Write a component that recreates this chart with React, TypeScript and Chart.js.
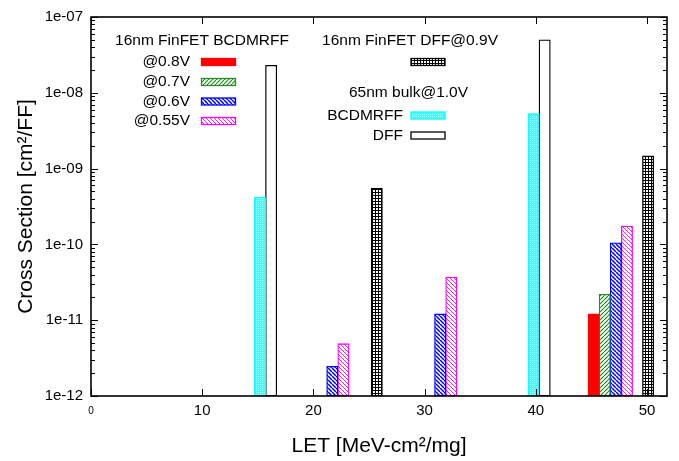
import React, { useEffect, useRef } from 'react';
import { Chart, registerables } from 'chart.js';

Chart.register(...registerables);

const FONT = "'Liberation Sans', Arial, Helvetica, sans-serif";

// ---- data (LET position, cross section) ----
const bcd08X = [45.2];
const bcd08Y = [1.21e-11];
const bcd07X = [46.2];
const bcd07Y = [2.2e-11];
const bcd06X = [21.7, 31.4, 47.2];
const bcd06Y = [2.46e-12, 1.21e-11, 1.05e-10];
const bcd055X = [22.7, 32.4, 48.2];
const bcd055Y = [4.9e-12, 3.7e-11, 1.75e-10];
const dff09X = [25.7, 50.1];
const dff09Y = [5.5e-10, 1.47e-9];
const bulkBcdX = [15.2, 39.8];
const bulkBcdY = [4.2e-10, 5.3e-9];
const bulkDffX = [16.2, 40.8];
const bulkDffY = [2.3e-8, 5.0e-8];

const xTicksStep = 10;
const xMin = 0;
const xMax = 51.8;
const yMin = 1e-12;
const yMax = 1e-7;

const seriesLabels = ['@0.8V', '@0.7V', '@0.6V', '@0.55V', '16nm FinFET DFF@0.9V', 'BCDMRFF', 'DFF'];
const groupTitles = ['16nm FinFET BCDMRFF', '16nm FinFET DFF@0.9V', '65nm bulk@1.0V'];
const xTitle = 'LET [MeV-cm\u00B2/mg]';
const yTitle = 'Cross Section [cm\u00B2/FF]';

function pts(xs: number[], ys: number[]) {
  return xs.map((x, i) => ({ x, y: ys[i] }));
}

function hatch(dir: 'slash' | 'back', color: string, lw: number): CanvasPattern {
  const s = 4;
  const c = document.createElement('canvas');
  c.width = s;
  c.height = s;
  const g = c.getContext('2d')!;
  g.fillStyle = '#fff';
  g.fillRect(0, 0, s, s);
  g.strokeStyle = color;
  g.lineWidth = lw;
  for (const off of [-s, 0, s]) {
    g.beginPath();
    if (dir === 'slash') {
      g.moveTo(off, s);
      g.lineTo(off + s, 0);
    } else {
      g.moveTo(off, 0);
      g.lineTo(off + s, s);
    }
    g.stroke();
  }
  return g.createPattern(c, 'repeat')!;
}

function gridPattern(): CanvasPattern {
  const s = 3;
  const c = document.createElement('canvas');
  c.width = s;
  c.height = s;
  const g = c.getContext('2d')!;
  g.fillStyle = '#fff';
  g.fillRect(0, 0, s, s);
  g.fillStyle = '#000';
  g.fillRect(0, 0, s, 1);
  g.fillRect(0, 0, 1, s);
  return g.createPattern(c, 'repeat')!;
}

function cyanPattern(): CanvasPattern {
  const s = 2;
  const c = document.createElement('canvas');
  c.width = s;
  c.height = s;
  const g = c.getContext('2d')!;
  g.fillStyle = '#3ffafa';
  g.fillRect(0, 0, s, s);
  g.fillStyle = '#a8ffff';
  g.fillRect(0, 0, 1, 1);
  return g.createPattern(c, 'repeat')!;
}

function isDecade(v: number) {
  const l = Math.log10(v);
  return Math.abs(l - Math.round(l)) < 1e-6;
}
function isIntMantissa(v: number) {
  const e = Math.floor(Math.log10(v) + 1e-9);
  const m = v / Math.pow(10, e);
  return Math.abs(m - Math.round(m)) < 1e-6;
}

const framePlugin = {
  id: 'gnuframe',
  afterDatasetsDraw(chart: any) {
    const { ctx, chartArea: a, scales } = chart;
    const xs = scales.x;
    const ys = scales.y;
    ctx.save();
    ctx.strokeStyle = '#000';
    ctx.lineWidth = 1;
    ctx.beginPath();
    for (const t of ys.ticks) {
      if (!isIntMantissa(t.value)) continue;
      const p = Math.round(ys.getPixelForValue(t.value)) + 0.5;
      const len = isDecade(t.value) ? 7 : 4;
      ctx.moveTo(a.left, p);
      ctx.lineTo(a.left + len, p);
      ctx.moveTo(a.right, p);
      ctx.lineTo(a.right - len, p);
    }
    for (const t of xs.ticks) {
      const p = Math.round(xs.getPixelForValue(t.value)) + 0.5;
      ctx.moveTo(p, a.bottom);
      ctx.lineTo(p, a.bottom - 7);
      ctx.moveTo(p, a.top);
      ctx.lineTo(p, a.top + 7);
    }
    ctx.stroke();
    ctx.lineWidth = 1.6;
    ctx.strokeRect(a.left, a.top, a.right - a.left, a.bottom - a.top);
    ctx.restore();
  },
  afterDraw(chart: any) {
    const { ctx } = chart;
    const ds = chart.data.datasets;
    ctx.save();
    ctx.font = `15.5px ${FONT}`;
    ctx.fillStyle = '#000';
    ctx.textBaseline = 'middle';
    const sample = (d: any, x: number, yc: number) => {
      const w = 34;
      const h = 7;
      ctx.fillStyle = d.backgroundColor;
      ctx.fillRect(x, yc - h / 2, w, h);
      ctx.strokeStyle = d.borderColor;
      ctx.lineWidth = 1.3;
      ctx.strokeRect(x, yc - h / 2, w, h);
      ctx.fillStyle = '#000';
    };
    // left group
    ctx.textAlign = 'center';
    ctx.fillText(groupTitles[0], 202, 41);
    const rows = [62, 82, 101.5, 121];
    ctx.textAlign = 'right';
    for (let i = 0; i < 4; i++) {
      ctx.fillText(ds[i].label, 190, rows[i]);
      sample(ds[i], 201.5, rows[i]);
    }
    // right group
    ctx.textAlign = 'center';
    ctx.fillText(groupTitles[1], 410, 41);
    sample(ds[4], 411, 62);
    ctx.fillText(groupTitles[2], 408.5, 93);
    ctx.textAlign = 'right';
    ctx.fillText(ds[5].label, 403, 115.5);
    sample(ds[5], 411, 115.5);
    ctx.fillText(ds[6].label, 403, 135.5);
    sample(ds[6], 411, 135.5);
    ctx.restore();
  },
};

export default function App() {
  const ref = useRef<HTMLCanvasElement>(null);
  useEffect(() => {
    document.body.style.margin = '0';
    const canvas = ref.current!;
    const common = { borderWidth: 1.3, barThickness: 11.3, grouped: false, borderSkipped: false as any };
    const chart = new Chart(canvas, {
      type: 'bar',
      data: {
        datasets: [
          { label: seriesLabels[0], data: pts(bcd08X, bcd08Y) as any, backgroundColor: '#ff0000', borderColor: '#ff0000', ...common },
          { label: seriesLabels[1], data: pts(bcd07X, bcd07Y) as any, backgroundColor: hatch('slash', '#1f8f1f', 1.2), borderColor: '#2a8a2a', ...common },
          { label: seriesLabels[2], data: pts(bcd06X, bcd06Y) as any, backgroundColor: hatch('back', '#0000ff', 1.5), borderColor: '#0000ff', ...common },
          { label: seriesLabels[3], data: pts(bcd055X, bcd055Y) as any, backgroundColor: hatch('back', '#ff00ff', 0.9), borderColor: '#ff00ff', ...common },
          { label: seriesLabels[4], data: pts(dff09X, dff09Y) as any, backgroundColor: gridPattern(), borderColor: '#000000', ...common },
          { label: seriesLabels[5], data: pts(bulkBcdX, bulkBcdY) as any, backgroundColor: cyanPattern(), borderColor: '#00ffff', ...common },
          { label: seriesLabels[6], data: pts(bulkDffX, bulkDffY) as any, backgroundColor: '#ffffff', borderColor: '#000000', ...common },
        ],
      },
      options: {
        responsive: false,
        animation: false,
        devicePixelRatio: 1,
        layout: { padding: { top: 12, right: 12, left: 0, bottom: 0 } },
        plugins: { legend: { display: false }, tooltip: { enabled: false } },
        scales: {
          x: {
            type: 'linear',
            offset: false,
            min: xMin,
            max: xMax,
            grid: { display: false, drawTicks: false, offset: false },
            border: { display: false },
            ticks: {
              stepSize: xTicksStep,
              includeBounds: false,
              padding: 6,
              color: '#000',
              maxRotation: 0,
              font: (c: any) =>
                c.tick && c.tick.value === 0
                  ? { family: FONT, size: 10, lineHeight: 1.94 }
                  : { family: FONT, size: 15, lineHeight: 1.2 },
            },
            title: {
              display: true,
              text: xTitle,
              color: '#000',
              font: { family: FONT, size: 21 },
              padding: { top: 0, bottom: 2 },
            },
            afterFit: (s: any) => {
              s.height = 65;
            },
          },
          y: {
            type: 'logarithmic',
            min: yMin,
            max: yMax,
            grid: { display: false, drawTicks: false },
            border: { display: false },
            ticks: {
              autoSkip: false,
              padding: 8,
              color: '#000',
              font: { family: FONT, size: 15 },
              callback: (v: any) => {
                const n = Number(v);
                if (!isDecade(n)) return '';
                const e = Math.round(Math.log10(n));
                const sign = e < 0 ? '-' : '+';
                return '1e' + sign + String(Math.abs(e)).padStart(2, '0');
              },
            },
            title: {
              display: true,
              text: yTitle,
              color: '#000',
              font: { family: FONT, size: 21 },
              padding: { top: 14, bottom: 0 },
            },
            afterFit: (s: any) => {
              s.width = 91;
            },
          },
        },
      },
      plugins: [framePlugin],
    });
    return () => chart.destroy();
  }, []);
  return (
    <div style={{ position: 'absolute', left: 0, top: 0, width: 679, height: 461, background: '#fff' }}>
      <canvas ref={ref} width={679} height={461} style={{ display: 'block', width: 679, height: 461 }} />
    </div>
  );
}
